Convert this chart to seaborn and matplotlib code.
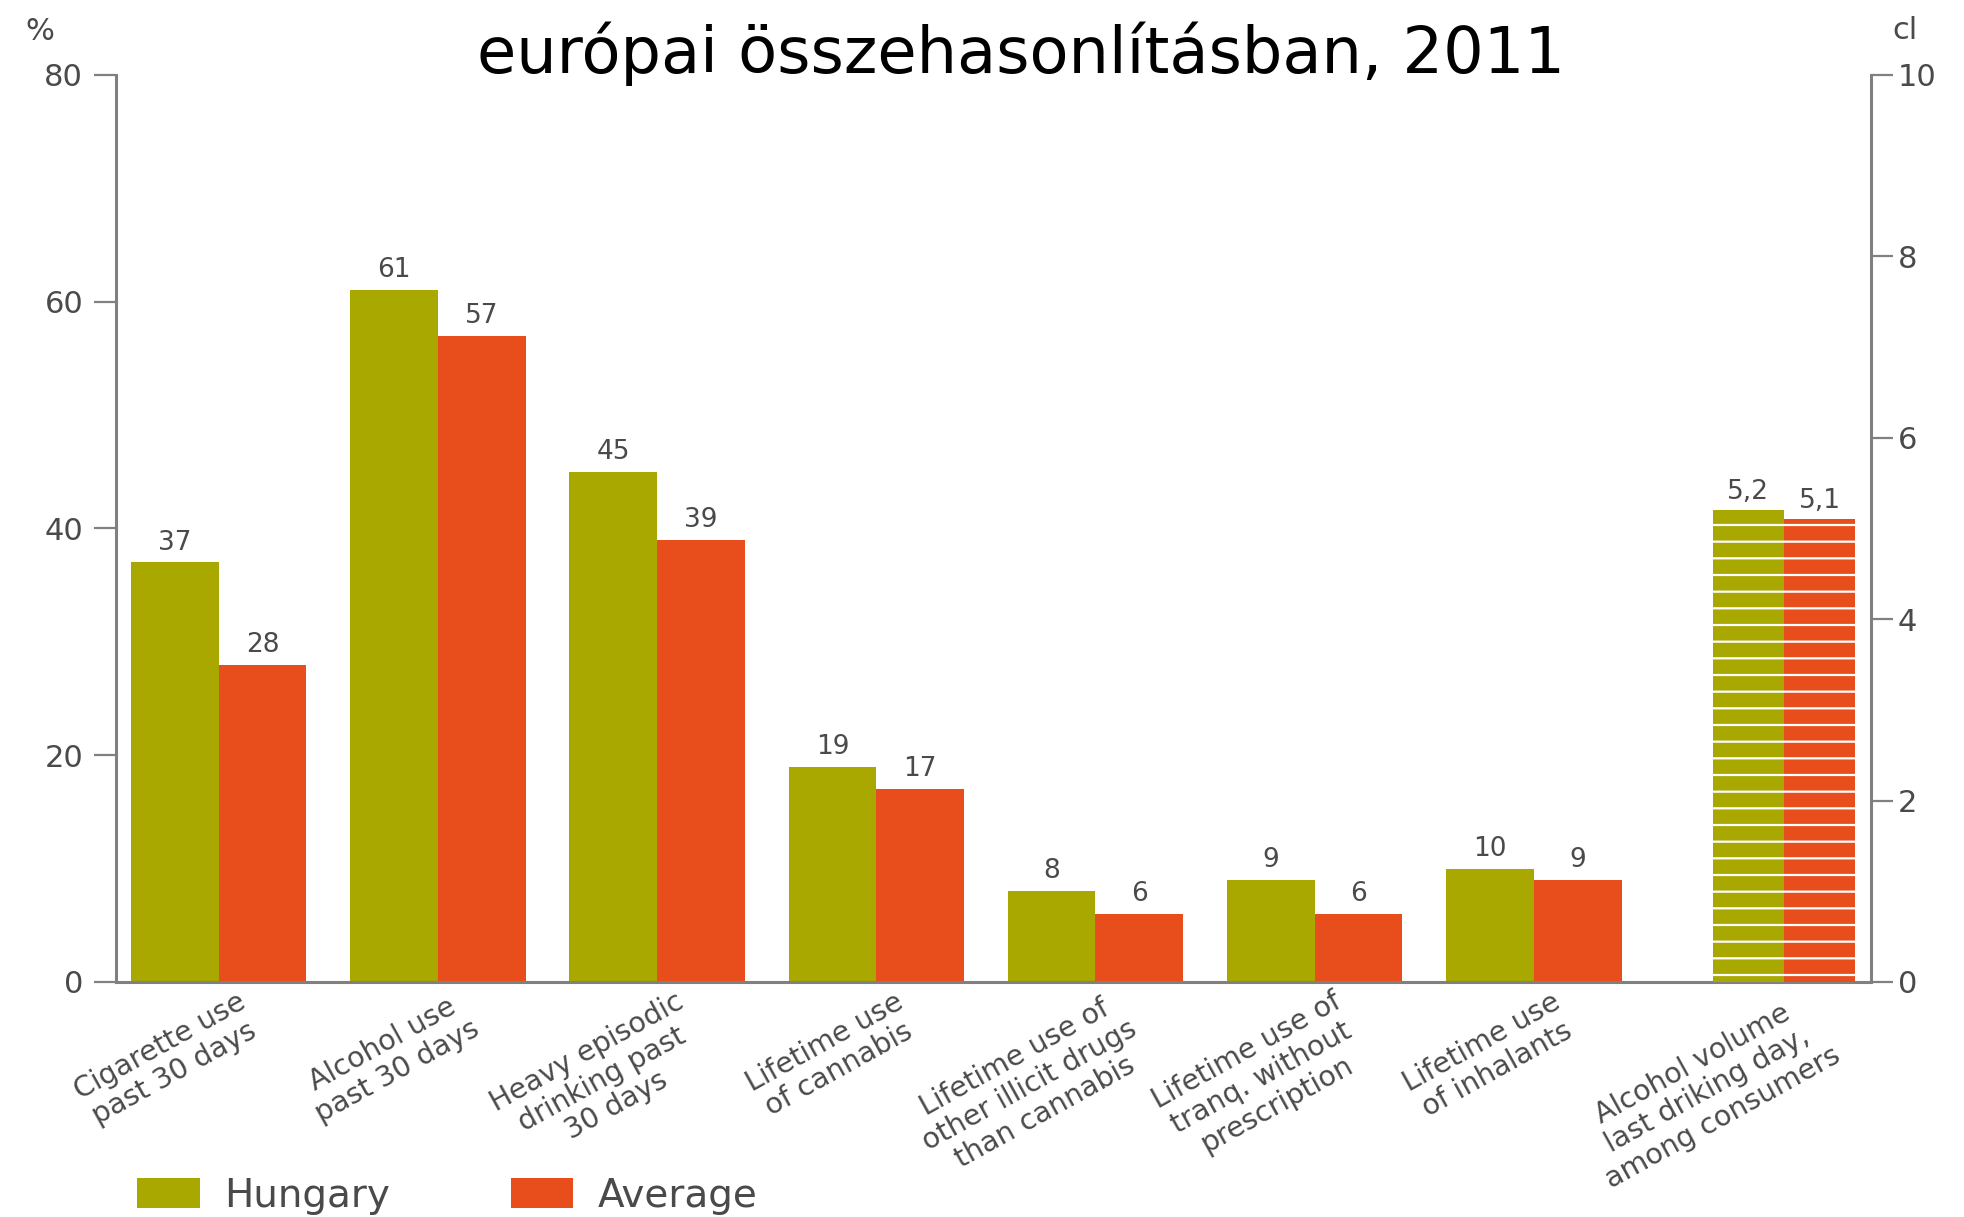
import matplotlib
matplotlib.use("Agg")
import matplotlib.pyplot as plt
import matplotlib.transforms as mtransforms
from matplotlib.patches import Patch
import seaborn as sns
import pandas as pd

# ---------------- data ----------------
categories = [
    "Cigarette use\npast 30 days",
    "Alcohol use\npast 30 days",
    "Heavy episodic\ndrinking past\n30 days",
    "Lifetime use\nof cannabis",
    "Lifetime use of\nother illicit drugs\nthan cannabis",
    "Lifetime use of\ntranq. without\nprescription",
    "Lifetime use\nof inhalants",
    "Alcohol volume\nlast driking day,\namong consumers",
]
series = ["Hungary", "Average"]
hungary_pct = [37, 61, 45, 19, 8, 9, 10]
average_pct = [28, 57, 39, 17, 6, 6, 9]
hungary_cl = [5.2]
average_cl = [5.1]
left_ticks = [0, 20, 40, 60, 80]
right_ticks = [0, 2, 4, 6, 8, 10]
title = "európai összehasonlításban, 2011"

# ---------------- style ----------------
OLIVE = "#A8A800"
ORANGE = "#E84E1B"
AXIS_C = "#808080"
TEXT_C = "#4a4a4a"

sns.set_style("white")
plt.rcParams["font.family"] = ["DejaVu Sans"]
plt.rcParams["hatch.linewidth"] = 1.6

pct_df = pd.DataFrame({
    "cat": categories[:7] * 2,
    "series": ["Hungary"] * 7 + ["Average"] * 7,
    "val": hungary_pct + average_pct,
})
cl_df = pd.DataFrame({
    "cat": [categories[7]] * 2,
    "series": series,
    "val": hungary_cl + average_cl,
})
palette = {"Hungary": OLIVE, "Average": ORANGE}

fig = plt.figure(figsize=(19.64, 12.17), dpi=100)
ax = fig.add_axes([0.0593, 0.1931, 0.8935, 0.7453])
ax2 = ax.twinx()

sns.barplot(data=pct_df, x="cat", y="val", hue="series", order=categories,
            hue_order=series, palette=palette, saturation=1, width=0.8,
            linewidth=0, legend=False, ax=ax, errorbar=None)
sns.barplot(data=cl_df, x="cat", y="val", hue="series", order=categories,
            hue_order=series, palette=palette, saturation=1, width=0.65,
            linewidth=0, legend=False, ax=ax2, errorbar=None)

LAST_SHIFT = 0.14
for p in ax2.patches:
    p.set_x(p.get_x() + LAST_SHIFT)
    p.set_hatch("-")
    p.set_edgecolor("white")
    p.set_linewidth(0)

# value labels
for cont in ax.containers:
    ax.bar_label(cont, fmt="%g", padding=5, fontsize=19, color=TEXT_C)
for cont in ax2.containers:
    labs = [f"{v:.1f}".replace(".", ",") for v in cont.datavalues]
    ax2.bar_label(cont, labels=labs, padding=4, fontsize=19, color=TEXT_C)

ax.set_xlim(-0.466, 7.539)
ax.set_ylim(0, 80)
ax2.set_ylim(0, 10)
ax.set_yticks(left_ticks)
ax2.set_yticks(right_ticks)
ax.set_xlabel("")
ax.set_ylabel("")
ax2.set_ylabel("")

for s in ["top", "right"]:
    ax.spines[s].set_visible(False)
for s in ["top", "left", "bottom"]:
    ax2.spines[s].set_visible(False)
for a, s in [(ax, "left"), (ax, "bottom"), (ax2, "right")]:
    a.spines[s].set_color(AXIS_C)
    a.spines[s].set_linewidth(2.2)

ax.tick_params(axis="y", direction="out", length=16, width=1.6, color=AXIS_C,
               labelsize=22, labelcolor=TEXT_C, pad=8, left=True)
ax2.tick_params(axis="y", direction="out", length=16, width=1.6, color=AXIS_C,
                labelsize=22, labelcolor=TEXT_C, pad=3, right=True)
ax.tick_params(axis="x", length=0, pad=4)

ticks = list(range(len(categories)))
ax.set_xticks(ticks)
ax.set_xticklabels(categories, rotation=29, ha="right", va="top",
                   rotation_mode="anchor", multialignment="center",
                   fontsize=20.5, color=TEXT_C, linespacing=1.12)
offset = mtransforms.ScaledTranslation(0.18, 0, fig.dpi_scale_trans)
for i, lab in enumerate(ax.get_xticklabels()):
    extra = LAST_SHIFT if i == len(categories) - 1 else 0
    lab.set_transform(lab.get_transform() + offset +
                      mtransforms.ScaledTranslation(extra * 2.19, 0, fig.dpi_scale_trans))

# unit labels
fig.text(0.0204, 0.974, "%", ha="center", va="center", fontsize=22, color=TEXT_C)
fig.text(0.970, 0.975, "cl", ha="center", va="center", fontsize=22, color=TEXT_C)

# title
fig.text(0.52, 0.940, title, ha="center", va="baseline", fontsize=46,
         family=["DejaVu Sans"], color="black")

# legend
handles = [Patch(facecolor=palette[s], edgecolor="none") for s in series]
fig.legend(handles, series, loc="lower left", bbox_to_anchor=(0.07, 0.002),
           ncol=2, frameon=False, fontsize=28, handlelength=1.6,
           handleheight=0.8, handletextpad=0.64, columnspacing=3.1,
           borderpad=0, borderaxespad=0, labelcolor=TEXT_C)

fig.savefig("out.png", dpi=100)
